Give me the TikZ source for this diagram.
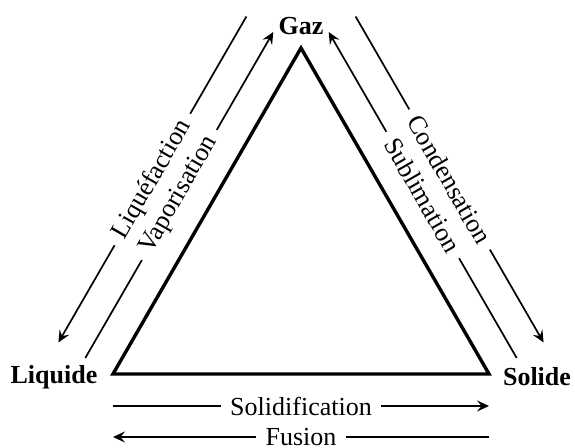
\documentclass[tikz,border=0pt]{standalone}
\usepackage{fontspec}
\setmainfont{Liberation Serif}
\usetikzlibrary{arrows.meta}
\begin{document}
\begin{tikzpicture}[x=0.5pt,y=-0.5pt,
  font=\fontsize{13}{15}\selectfont,
  state/.style={font=\fontsize{13}{15}\selectfont\bfseries},
  lbl/.style={inner xsep=4.5pt, inner ysep=2pt},
  conn/.style={line width=0.85pt},
  arr/.style={conn, -{Stealth[length=6pt,width=5.5pt,inset=2.3pt]}},
  tri/.style={line width=1.7pt, line join=miter}]
\useasboundingbox (0,0) rectangle (575,448);
% triangle corners
\coordinate (L) at (113,374);
\coordinate (R) at (489,374);
\coordinate (T) at (301,48);
\draw[tri] (L) -- (T) -- (R) -- cycle;
% state labels
\node[state] (gaz) at (301,26) {Gaz};
\node[state] (liquide) at (54,377) {Liquide};
\node[state] (solide) at (537,377) {Solide};
% connector end points
\coordinate (lo1) at (246.4,16.5);
\coordinate (lo2) at (58.4,342.5);
\coordinate (li1) at (85.3,358);
\coordinate (li2) at (273.3,32);
\coordinate (ri1) at (516.7,358);
\coordinate (ri2) at (328.7,32);
\coordinate (ro1) at (355.6,16.5);
\coordinate (ro2) at (543.6,342.5);
\coordinate (bi1) at (113,406);
\coordinate (bi2) at (489,406);
\coordinate (bo1) at (489,437);
\coordinate (bo2) at (113,437);
% text labels
\node[lbl, rotate=60.1] (liq) at (152.4,179.5) {Liquéfaction};
\node[lbl, rotate=60.1] (vap) at (179.3,195) {Vaporisation};
\node[lbl, rotate=-60.1] (sub) at (422.7,195) {Sublimation};
\node[lbl, rotate=-60.1] (cond) at (449.6,179.5) {Condensation};
\node[lbl] (sol) at (301,406) {Solidification};
\node[lbl] (fus) at (301,437) {Fusion};
% connectors
\draw[conn] (lo1) -- (liq.east);
\draw[arr] (liq.west) -- (lo2);
\draw[conn] (li1) -- (vap.west);
\draw[arr] (vap.east) -- (li2);
\draw[conn] (ri1) -- (sub.east);
\draw[arr] (sub.west) -- (ri2);
\draw[conn] (ro1) -- (cond.west);
\draw[arr] (cond.east) -- (ro2);
\draw[conn] (bi1) -- (sol.west);
\draw[arr] (sol.east) -- (bi2);
\draw[conn] (bo1) -- (fus.east);
\draw[arr] (fus.west) -- (bo2);
\end{tikzpicture}
\end{document}
